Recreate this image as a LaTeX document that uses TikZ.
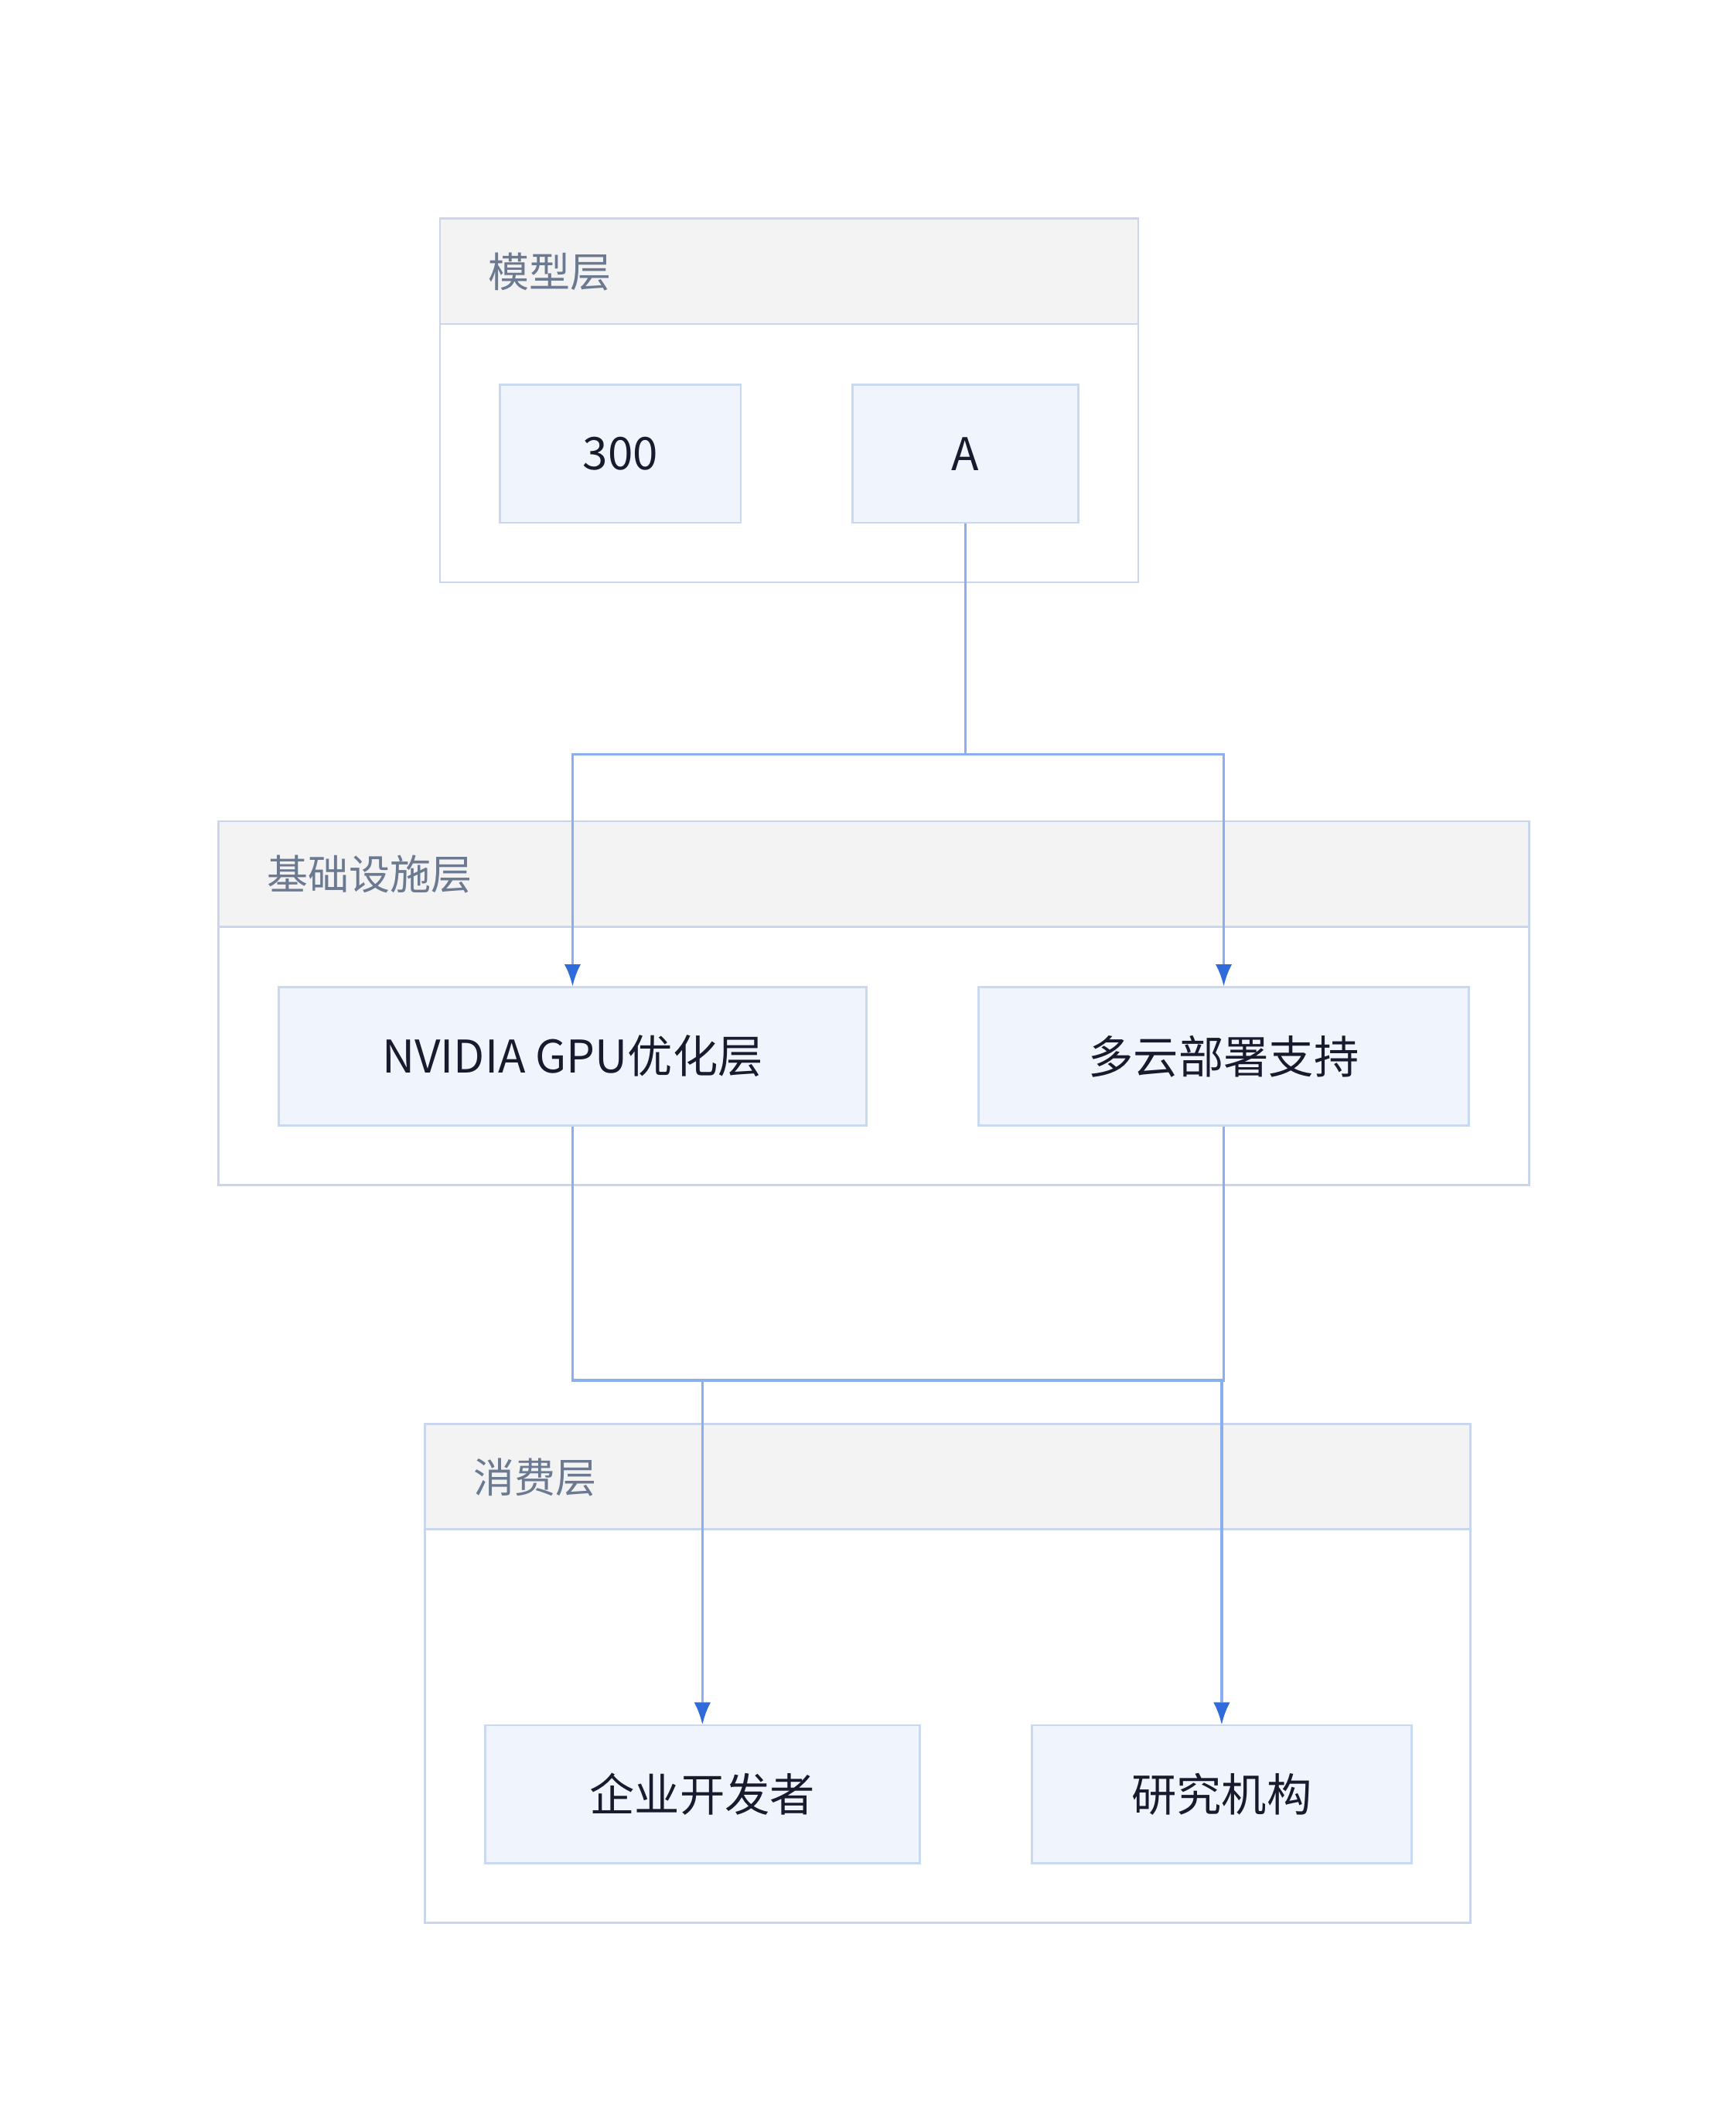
\documentclass[tikz,border=0pt]{standalone}
\usepackage{fontspec}
\setmainfont{Noto Sans CJK SC}
\usetikzlibrary{arrows.meta}
\definecolor{grpb}{HTML}{C9D6EE}
\definecolor{hdr}{HTML}{F3F3F3}
\definecolor{nfill}{HTML}{F0F5FD}
\definecolor{nbord}{HTML}{C9D9F0}
\definecolor{edge}{HTML}{8AAEEE}
\definecolor{tip}{HTML}{2F6BDB}
\definecolor{lbl}{HTML}{6B7A90}
\definecolor{txt}{HTML}{1A1A2E}
\begin{document}
\begin{tikzpicture}[x=1pt,y=-1pt,
 grp/.style={draw=grpb,line width=1.5pt,fill=white},
 hd/.style={draw=grpb,line width=1.5pt,fill=hdr},
 glabel/.style={anchor=west,text=lbl,font=\fontsize{30}{36}\selectfont},
 box/.style={draw=nbord,line width=1.5pt,fill=nfill,text=txt,font=\fontsize{33}{40}\selectfont,inner sep=0pt},
 conn/.style={draw=edge,line width=2pt,-{Latex[length=16pt,width=12pt,color=tip]}},
 ln/.style={draw=edge,line width=2pt}]
\useasboundingbox[fill=white] (0,0) rectangle (1270,1555);
% groups
\draw[grp] (322,160) rectangle (833,426);
\draw[hd] (322,160) rectangle (833,237);
\node[glabel] (gm) at (354,199) {模型层};
\draw[grp] (160,601) rectangle (1119,867);
\draw[hd] (160,601) rectangle (1119,678);
\node[glabel] (gi) at (192,640) {基础设施层};
\draw[grp] (311,1042) rectangle (1076,1407);
\draw[hd] (311,1042) rectangle (1076,1119);
\node[glabel] (gc) at (343,1081) {消费层};
% nodes
\node[box,minimum width=176pt,minimum height=101pt] (n300) at (454,332) {300};
\node[box,minimum width=165pt,minimum height=101pt] (na) at (706.5,332) {A};
\node[box,minimum width=430pt,minimum height=101pt] (nv) at (419,773) {NVIDIA GPU优化层};
\node[box,minimum width=359pt,minimum height=101pt] (mc) at (895.5,773) {多云部署支持};
\node[box,minimum width=318pt,minimum height=101pt] (ent) at (514,1313) {企业开发者};
\node[box,minimum width=278pt,minimum height=101pt] (res) at (894,1313) {研究机构};
% edges
\draw[conn] (na.south) -- (706.5,552) -| (nv.north);
\draw[conn] (na.south) -- (706.5,552) -| (mc.north);
\draw[conn] (nv.south) -- (419,1010) -| (ent.north);
\draw[conn] (nv.south) -- (419,1010) -| (res.north);
\draw[conn] (mc.south) -- (895.5,1010) -| (ent.north);
\draw[conn] (mc.south) -- (895.5,1010) -| (res.north);
\end{tikzpicture}
\end{document}
